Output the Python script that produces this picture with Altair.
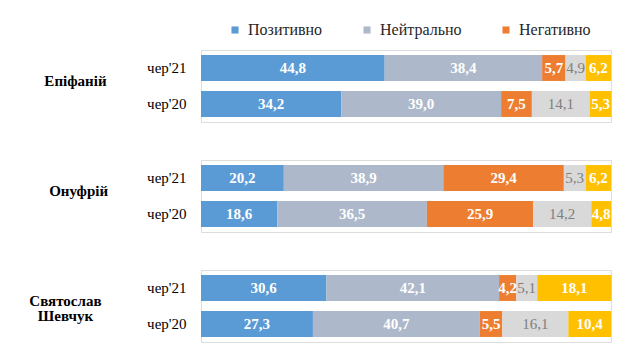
import altair as alt
import pandas as pd

persons = ["Епіфаній", "Онуфрій", "Святослав Шевчук"]
periods = ["чер'21", "чер'20"]
categories = ["Позитивно", "Нейтрально", "Негативно", "Не знаю", "Важко сказати"]
legend_cats = ["Позитивно", "Нейтрально", "Негативно"]
colors = ["#5B9BD5", "#ADB9CA", "#ED7D31", "#D9D9D9", "#FFC000"]

values = {
    ("Епіфаній", "чер'21"): [44.8, 38.4, 5.7, 4.9, 6.2],
    ("Епіфаній", "чер'20"): [34.2, 39.0, 7.5, 14.1, 5.3],
    ("Онуфрій", "чер'21"): [20.2, 38.9, 29.4, 5.3, 6.2],
    ("Онуфрій", "чер'20"): [18.6, 36.5, 25.9, 14.2, 4.8],
    ("Святослав Шевчук", "чер'21"): [30.6, 42.1, 4.2, 5.1, 18.1],
    ("Святослав Шевчук", "чер'20"): [27.3, 40.7, 5.5, 16.1, 10.4],
}

rows = []
for p in persons:
    for per in periods:
        for i, c in enumerate(categories):
            rows.append({"person": p, "period": per, "cat": c, "order": i,
                         "value": values[(p, per)][i]})
df = pd.DataFrame(rows)

FONT = "Liberation Serif"

base = alt.Chart().transform_stack(
    stack="value", groupby=["person", "period"], sort=[alt.SortField("order")],
    as_=["x0", "x1"]
).transform_calculate(
    mid="(datum.x0 + datum.x1) / 2",
    label="replace(format(datum.value, '.1f'), '.', ',')",
)

yenc = alt.Y("period:N", sort=periods, title=None,
             scale=alt.Scale(paddingInner=0.28, paddingOuter=0.14),
             axis=alt.Axis(ticks=False, domain=False, grid=False, labelFont=FONT,
                           labelFontSize=15, labelColor="black", labelPadding=14))

bars = base.mark_bar().encode(
    x=alt.X("x0:Q", scale=alt.Scale(domain=[0, 100], nice=False), axis=None),
    x2="x1:Q",
    y=yenc,
    color=alt.Color("cat:N", sort=categories,
                    scale=alt.Scale(domain=categories, range=colors),
                    legend=alt.Legend(values=legend_cats, title=None, orient="none",
                                      legendX=26, legendY=-28,
                                      direction="horizontal", symbolType="square",
                                      symbolSize=50, labelFont=FONT, labelFontSize=16,
                                      labelColor="#262626", columnPadding=36,
                                      symbolStrokeWidth=0, labelOffset=5)),
)

text_white = base.transform_filter("datum.cat != 'Не знаю'").mark_text(
    font=FONT, fontSize=15, fontWeight="bold", color="white"
).encode(
    x=alt.X("mid:Q"), y=alt.Y("period:N", sort=periods), text="label:N"
)

text_gray = base.transform_filter("datum.cat == 'Не знаю'").mark_text(
    font=FONT, fontSize=15, color="#7F7F7F"
).encode(
    x=alt.X("mid:Q"), y=alt.Y("period:N", sort=periods), text="label:N"
)

chart = alt.layer(bars, text_white, text_gray, data=df).properties(
    width=410, height=alt.Step(36)
).facet(
    row=alt.Row("person:N", sort=persons, title=None,
                header=alt.Header(labelOrient="left", labelAngle=0, labelAlign="center",
                                  labelBaseline="alphabetic",
                                  labelFont=FONT, labelFontSize=15, labelFontWeight="bold",
                                  labelColor="black", labelPadding=9, labelLineHeight=15,
                                  labelExpr="split(datum.value, ' ')"))
).properties(
    spacing=36, padding={"left": 21, "top": 14, "right": 5, "bottom": 5}
).configure_view(strokeWidth=0, stroke="transparent").configure(
    background="white", font=FONT
)

chart.save("out.html", embed_options={"renderer": "svg", "actions": False})
